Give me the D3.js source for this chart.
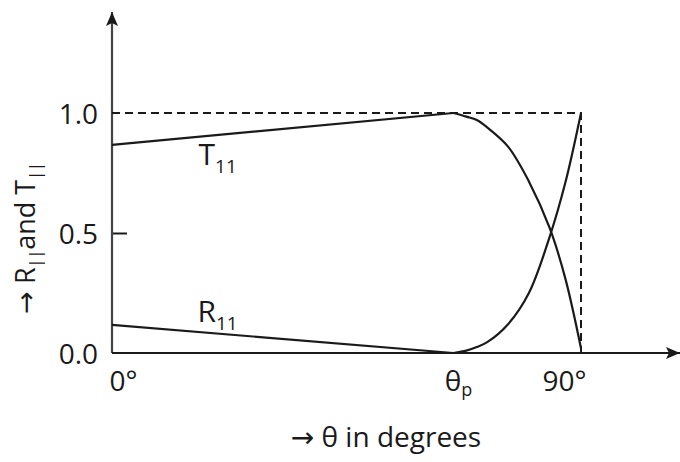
<!DOCTYPE html>
<html>
<head>
<meta charset="utf-8">
<script src="https://cdn.jsdelivr.net/npm/d3@7"></script>
<style>
  body { margin: 0; background: #fff; }
  svg { display: block; }
</style>
</head>
<body>
<script>
// values (angle in degrees, value 0..1)
let thetaP = 65.5;
let angles = [0, thetaP, 68, 70, 72, 76, 80, 84, 87, 90];
let tValues = [0.867, 1.0, 0.985, 0.971, 0.94, 0.86, 0.715, 0.52, 0.31, 0.02];
let rValues = [0.117, 0.0, 0.01, 0.025, 0.045, 0.12, 0.25, 0.485, 0.71, 1.0];
let yTicks = [0, 0.5, 1.0];
let yTickLabels = ["0.0", "0.5", "1.0"];
let xTicks = [0, thetaP, 90];

let width = 680;
let height = 462;
let svg = d3.select("body").append("svg").attr("width", width).attr("height", height);

let x = d3.scaleLinear().domain([0, 90]).range([112, 581]);
let y = d3.scaleLinear().domain([0, 1]).range([353, 113]);

let font = "'Open Sans', 'DejaVu Sans', sans-serif";
let ink = "#1a1a1a";

// y axis: tick marks pointing inward, labels to the left
let yAxis = svg.append("g")
    .attr("transform", `translate(${x(0)},0)`)
    .call(d3.axisLeft(y).tickValues(yTicks).tickSizeInner(-15).tickSizeOuter(0).tickPadding(14)
        .tickFormat((d, i) => yTickLabels[i]));
yAxis.select(".domain").remove();
yAxis.selectAll(".tick line").filter(d => d !== 0.5).remove();
yAxis.selectAll(".tick line").attr("stroke", ink).attr("stroke-width", 2);
yAxis.selectAll("text").attr("font-family", font).attr("font-size", 28).attr("fill", ink).attr("dy", "0.36em");

// x axis labels
let xLabels = {0: "0°", 90: "90°"};
let xAxis = svg.append("g")
    .attr("transform", `translate(0,${y(0)})`)
    .call(d3.axisBottom(x).tickValues(xTicks).tickSize(0).tickPadding(18).tickFormat(() => ""));
xAxis.select(".domain").remove();
xAxis.selectAll(".tick text").each(function (d) {
    let t = d3.select(this)
        .attr("font-family", font).attr("font-size", 28).attr("fill", ink)
        .attr("dy", "0.71em");
    if (d === thetaP) {
        t.append("tspan").text("θ");
        t.append("tspan").attr("font-size", 18).attr("dy", 5).text("p");
        t.attr("text-anchor", "start").attr("dx", -9);
    } else if (d === 0) {
        t.text(xLabels[0]).attr("text-anchor", "start").attr("dx", -3);
    } else {
        t.text(xLabels[90]).attr("text-anchor", "end").attr("dx", 5);
    }
});

// arrow heads
let defs = svg.append("defs");
defs.append("marker")
    .attr("id", "arrow")
    .attr("viewBox", "0 0 14 12")
    .attr("refX", 14).attr("refY", 6)
    .attr("markerWidth", 14).attr("markerHeight", 12)
    .attr("markerUnits", "userSpaceOnUse")
    .attr("orient", "auto")
    .append("path")
    .attr("d", "M0,0 L14,6 L0,12 L3,6 Z")
    .attr("fill", ink);

// axis lines
svg.append("line")
    .attr("x1", x(0)).attr("y1", y(0)).attr("x2", x(0)).attr("y2", 12)
    .attr("stroke", "#444").attr("stroke-width", 2.2)
    .attr("marker-end", "url(#arrow)");
svg.append("line")
    .attr("x1", x(0)).attr("y1", y(0)).attr("x2", 680).attr("y2", y(0))
    .attr("stroke", ink).attr("stroke-width", 2.2)
    .attr("marker-end", "url(#arrow)");

// dashed frame at 1.0 and 90°
svg.append("path")
    .attr("d", `M${x(0)},${y(1)} H${x(90)} V${y(0)}`)
    .attr("fill", "none")
    .attr("stroke", ink).attr("stroke-width", 2)
    .attr("stroke-dasharray", "8,5");

// curves: straight up to thetaP, smooth after
function drawSeries(values) {
    let pts = angles.map((a, i) => [a, values[i]]);
    let straight = d3.line().x(d => x(d[0])).y(d => y(d[1]));
    let smooth = d3.line().x(d => x(d[0])).y(d => y(d[1])).curve(d3.curveCatmullRom.alpha(0.5));
    svg.append("path").attr("d", straight(pts.slice(0, 2)))
        .attr("fill", "none").attr("stroke", ink).attr("stroke-width", 2.2);
    svg.append("path").attr("d", smooth(pts.slice(1)))
        .attr("fill", "none").attr("stroke", ink).attr("stroke-width", 2.2);
}
drawSeries(tValues);
drawSeries(rValues);

// curve labels
function curveLabel(name, px, py) {
    let t = svg.append("text")
        .attr("x", px).attr("y", py)
        .attr("font-family", font).attr("font-size", 30).attr("fill", ink);
    t.append("tspan").text(name);
    t.append("tspan").attr("font-size", 19).attr("dy", 8).text("11");
}
curveLabel("T", x(16.6), 165);
curveLabel("R", x(16.4), 322);

// axis titles
svg.append("text")
    .attr("x", 386).attr("y", 447)
    .attr("text-anchor", "middle")
    .attr("font-family", font).attr("font-size", 28).attr("fill", ink)
    .text("→ θ in degrees");

let yTitle = svg.append("text")
    .attr("transform", "translate(35,238) rotate(-90)")
    .attr("text-anchor", "middle")
    .attr("font-family", font).attr("font-size", 27).attr("fill", ink);
yTitle.append("tspan").text("→ R");
yTitle.append("tspan").attr("font-size", 16).attr("dy", 6).text("||");
yTitle.append("tspan").attr("dy", -6).text("and T");
yTitle.append("tspan").attr("font-size", 16).attr("dy", 6).text("||");
</script>
</body>
</html>
